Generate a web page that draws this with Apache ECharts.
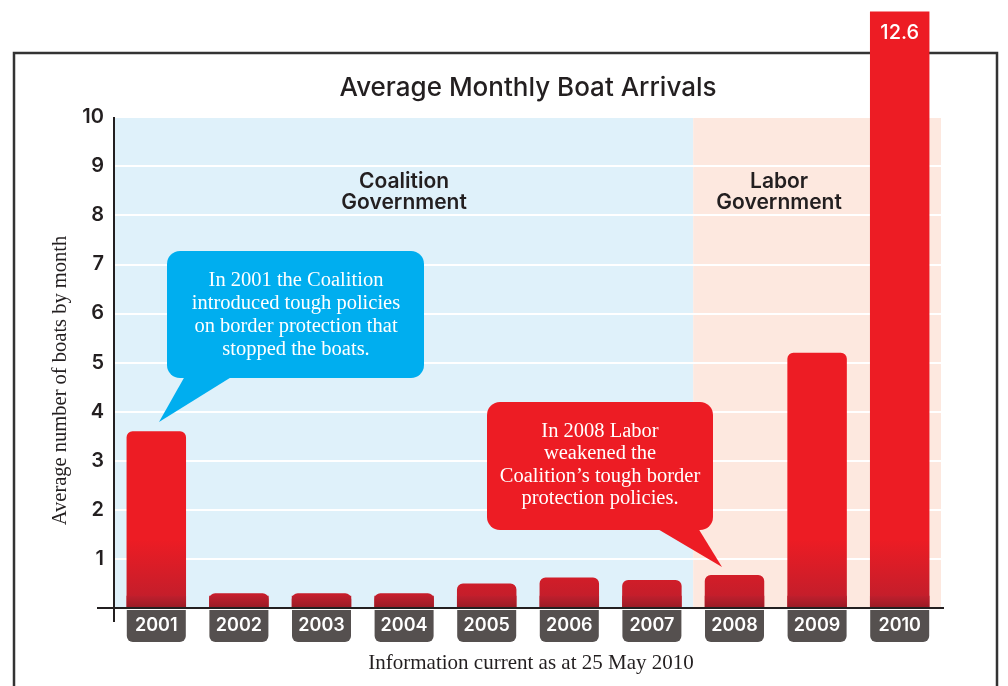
<!DOCTYPE html>
<html><head><meta charset="utf-8">
<script src="https://cdn.jsdelivr.net/npm/echarts@6/dist/echarts.min.js"></script>
<style>html,body{margin:0;padding:0;background:#fff}#c{width:1008px;height:686px}</style>
</head><body><div id="c"></div>
<script>
// ---- data ----
const categories = ['2001','2002','2003','2004','2005','2006','2007','2008','2009','2010'];
const arrivals = [3.6, 0.3, 0.3, 0.3, 0.5, 0.62, 0.57, 0.67, 5.2, 12.6];
const yTickLabels = ['', '1', '2', '3', '4', '5', '6', '7', '8', '9', '10'];
const periodNames = ['Coalition\nGovernment', 'Labor\nGovernment'];
const periodStart = [0, 7];   // category band index where each period starts
const periodEnd = [7, 10];
const titleText = 'Average Monthly Boat Arrivals';
const yAxisTitle = 'Average number of boats by month';
const footnote = 'Information current as at 25 May 2010';
const noteCoalition = 'In 2001 the Coalition\nintroduced tough policies\non border protection that\nstopped the boats.';
const noteLabor = 'In 2008 Labor\nweakened the\nCoalition\u2019s tough border\nprotection policies.';

// ---- style constants ----
const SANS = 'Inter, Lato, "Noto Sans", sans-serif';
const SERIF = '"Liberation Serif", "DejaVu Serif", serif';
const INK = '#231F20';
const BAR_RATIO = 0.72, DISPLAY_CAP = 12.15, BASE_BAND = 0.25, FADE_FROM = 1.4;
const periodColors = ['#DFF1FA', '#FDE8DF'];
const periodLabelOffset = [0, -38];

const chart = echarts.init(document.getElementById('c'), null, {renderer: 'canvas'});

const option = {
  animation: false,
  backgroundColor: '#fff',
  grid: {left: 115, right: 67, top: 117, bottom: 78, containLabel: false},
  xAxis: [
    {type: 'category', data: categories, gridIndex: 0,
     axisLine: {show: false}, axisTick: {show: false},
     axisLabel: {margin: 0, formatter: v => '{b|' + v + '}',
       rich: {b: {width: 59, height: 32, lineHeight: 36, align: 'center', backgroundColor: '#55504F',
         borderRadius: [0, 0, 6, 6], color: '#fff', fontFamily: SANS, fontWeight: 600, fontSize: 18}}}},
    {type: 'value', min: 0, max: 10, show: false, gridIndex: 0}
  ],
  yAxis: {type: 'value', min: 0, max: 10, interval: 1, z: 5,
    axisLine: {show: false}, axisTick: {show: false},
    splitLine: {lineStyle: {color: '#fff', width: 2}},
    axisLabel: {margin: 11, color: INK, fontFamily: SANS, fontWeight: 600, fontSize: 20,
      formatter: (v) => yTickLabels[Math.round(v)]},
    name: yAxisTitle, nameLocation: 'middle', nameGap: 37, nameRotate: 90,
    nameTextStyle: {fontFamily: SERIF, fontSize: 20.5, color: INK, padding: [0, 36, 0, 0]}
  },
  series: [
    {type: 'scatter', xAxisIndex: 1, yAxisIndex: 0, z: -1, data: [], silent: true,
     markArea: {silent: true, z: -1,
       data: periodNames.map((n, k) => [
         {name: n, xAxis: periodStart[k], itemStyle: {color: periodColors[k]},
          label: {offset: [periodLabelOffset[k], 0]}},
         {xAxis: periodEnd[k]}]),
       label: {show: true, position: 'insideTop', distance: 54, color: INK, fontFamily: SANS,
         fontWeight: 600, fontSize: 21, lineHeight: 21, align: 'center'}
     }},
    {type: 'custom', xAxisIndex: 0, yAxisIndex: 0, z: 10, clip: false,
     data: arrivals.map((v, i) => [i, v]),
     renderItem(params, api) {
       const i = api.value(0), v = api.value(1);
       const p0 = api.coord([i, 0]);
       const capped = v > DISPLAY_CAP;
       const pt = api.coord([i, Math.min(v, DISPLAY_CAP)]);
       const bw = api.size([1, 0])[0] * BAR_RATIO;
       const x = p0[0] - bw / 2;
       const yFade = api.coord([i, FADE_FROM])[1];
       const yBand = api.coord([i, Math.min(BASE_BAND, v)])[1];
       const children = [
         {type: 'rect', shape: {x: x, y: pt[1], width: bw, height: p0[1] - pt[1], r: capped ? 0 : [6, 6, 0, 0]},
          style: {fill: new echarts.graphic.LinearGradient(0, yFade, 0, p0[1],
            [{offset: 0, color: '#ED1C24'}, {offset: 1, color: '#BC1E2C'}], true)}},
         {type: 'rect', shape: {x: x, y: yBand, width: bw, height: p0[1] - yBand},
          style: {fill: new echarts.graphic.LinearGradient(0, yBand, 0, p0[1],
            [{offset: 0, color: '#C01F2D'}, {offset: 1, color: '#981B25'}], true)}}
       ];
       if (capped) {
         children.push({type: 'text', style: {text: String(v), x: p0[0], y: pt[1] + 22,
           align: 'center', verticalAlign: 'middle', fill: '#fff',
           font: '500 20px ' + SANS}});
       }
       return {type: 'group', children: children};
     }}
  ]
};
chart.setOption(option);

// decorations positioned from the axes' own pixel conversion
const o = chart.convertToPixel({xAxisIndex: 1, yAxisIndex: 0}, [0, 0]);
const t = chart.convertToPixel({xAxisIndex: 1, yAxisIndex: 0}, [10, 10]);
const cx = (o[0] + t[0]) / 2;
const Z = 60;
chart.setOption({
  graphic: {elements: [
    {type: 'rect', z: -100, silent: true, shape: {x: 14, y: 53, width: 983, height: 700},
     style: {fill: 'none', stroke: '#333333', lineWidth: 2.5}},
    {type: 'line', z: 50, shape: {x1: o[0] - 18, y1: o[1], x2: t[0] + 3, y2: o[1]},
     style: {stroke: INK, lineWidth: 2}},
    {type: 'line', z: 50, shape: {x1: o[0] - 1, y1: t[1], x2: o[0] - 1, y2: o[1] + 14},
     style: {stroke: INK, lineWidth: 2}},
    {type: 'text', z: 50, style: {text: titleText, x: cx, y: 88, align: 'center', verticalAlign: 'middle',
      fill: INK, font: '500 26px ' + SANS}},
    {type: 'text', z: 50, style: {text: footnote, x: cx + 3, y: 663, align: 'center', verticalAlign: 'middle',
      fill: INK, font: '21px ' + SERIF}},
    // Coalition callout
    {type: 'polygon', z: Z, shape: {points: [[185, 376], [233, 376], [159, 422]]}, style: {fill: '#00AEEF'}},
    {type: 'rect', z: Z, shape: {x: 167, y: 251, width: 257, height: 127, r: 13}, style: {fill: '#00AEEF'}},
    {type: 'text', z: Z + 1, style: {text: noteCoalition, x: 296, y: 315, align: 'center', verticalAlign: 'middle',
      fill: '#fff', font: '20.5px ' + SERIF, lineHeight: 23}},
    // Labor callout
    {type: 'polygon', z: Z, shape: {points: [[656, 528], [698, 528], [722, 567]]}, style: {fill: '#ED1C24'}},
    {type: 'rect', z: Z, shape: {x: 487, y: 402, width: 226, height: 128, r: 13}, style: {fill: '#ED1C24'}},
    {type: 'text', z: Z + 1, style: {text: noteLabor, x: 600, y: 465, align: 'center', verticalAlign: 'middle',
      fill: '#fff', font: '20.5px ' + SERIF, lineHeight: 22.5}}
  ]}
});
</script></body></html>
